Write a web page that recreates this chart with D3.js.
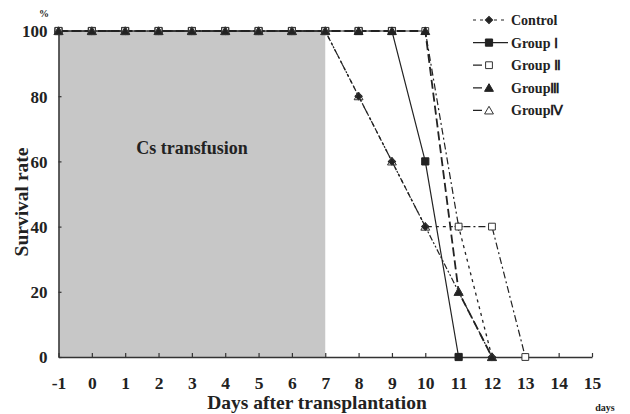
<!DOCTYPE html>
<html>
<head>
<meta charset="utf-8">
<title>survival</title>
<style>
  body { margin: 0; background: #fff; }
  text { font-family: "Liberation Serif", "Noto Serif", serif; font-weight: bold; fill: #222; }
</style>
</head>
<body>
<div id="chart"></div>
<script src="https://d3js.org/d3.v7.min.js"></script>
<script>
// data
var xTicks = [-1, 0, 1, 2, 3, 4, 5, 6, 7, 8, 9, 10, 11, 12, 13, 14, 15];
var yTicks = [0, 20, 40, 60, 80, 100];

var controlDays = [-1, 0, 1, 2, 3, 4, 5, 6, 7, 8, 9, 10, 11, 12];
var controlRate = [100, 100, 100, 100, 100, 100, 100, 100, 100, 80, 60, 40, 40, 0];

var group1Days = [-1, 0, 1, 2, 3, 4, 5, 6, 7, 8, 9, 10, 11];
var group1Rate = [100, 100, 100, 100, 100, 100, 100, 100, 100, 100, 100, 60, 0];

var group2Days = [-1, 0, 1, 2, 3, 4, 5, 6, 7, 8, 9, 10, 11, 12, 13];
var group2Rate = [100, 100, 100, 100, 100, 100, 100, 100, 100, 100, 100, 100, 40, 40, 0];

var group3Days = [-1, 0, 1, 2, 3, 4, 5, 6, 7, 8, 9, 10, 11, 12];
var group3Rate = [100, 100, 100, 100, 100, 100, 100, 100, 100, 100, 100, 100, 20, 0];

var group4Days = [-1, 0, 1, 2, 3, 4, 5, 6, 7, 8, 9, 10, 11, 12];
var group4Rate = [100, 100, 100, 100, 100, 100, 100, 100, 100, 80, 60, 40, 20, 0];

var transfusion = [-1, 7];   // shaded period (days)

var width = 630, height = 414;

var svg = d3.select('#chart').append('svg')
	.attr('width', width)
	.attr('height', height);

var x = d3.scaleLinear().domain([-1, 15]).range([58.5, 592]);
var y = d3.scaleLinear().domain([0, 100]).range([357, 31]);

// shaded transfusion period
svg.append('rect')
	.attr('x', x(transfusion[0]))
	.attr('y', y(100))
	.attr('width', x(transfusion[1]) - x(transfusion[0]))
	.attr('height', y(0) - y(100))
	.attr('fill', '#c7c7c7');

svg.append('text')
	.attr('x', 192)
	.attr('y', 154)
	.attr('text-anchor', 'middle')
	.attr('font-size', 18)
	.text('Cs transfusion');

// axes
var xAxis = d3.axisBottom(x).tickValues(xTicks).tickSize(-4).tickSizeOuter(0).tickPadding(19)
	.tickFormat(function(d){ return String(d); });
var gx = svg.append('g').attr('transform', 'translate(0,' + y(0) + ')').call(xAxis);
gx.selectAll('text').attr('font-size', 17.5).attr('dy', '0.72em');

var yAxis = d3.axisLeft(y).tickValues(yTicks).tickSize(-3).tickSizeOuter(0).tickPadding(11);
var gy = svg.append('g').attr('transform', 'translate(' + x(-1) + ',0)').call(yAxis);
gy.selectAll('text').attr('font-size', 17).attr('dy', '0.35em');

svg.selectAll('.domain').attr('stroke', '#333').attr('stroke-width', 1.5);
svg.selectAll('.tick line').attr('stroke', '#333').attr('stroke-width', 1.2);
svg.selectAll('.tick text').attr('fill', '#222').style('font-family', '"Liberation Serif", serif').style('font-weight', 'bold');

svg.append('text').attr('x', 44).attr('y', 17).attr('text-anchor', 'middle').attr('font-size', 10).text('%');
svg.append('text').attr('x', 605).attr('y', 411).attr('text-anchor', 'middle').attr('font-size', 10).text('days');

svg.append('text')
	.attr('x', 317).attr('y', 409)
	.attr('text-anchor', 'middle')
	.attr('font-size', 19.5)
	.text('Days after transplantation');

svg.append('text')
	.attr('transform', 'translate(28,202) rotate(-90)')
	.attr('text-anchor', 'middle')
	.attr('font-size', 19.5)
	.text('Survival rate');

// series
var series = [
	{ name: 'Control', days: controlDays, rate: controlRate, dash: '3,4', width: 1.3, sym: d3.symbolSquare, rot: 45, size: 26, fill: '#222', stroke: '#222' },
	{ name: 'Group \u2160', days: group1Days, rate: group1Rate, dash: null, width: 1.2, sym: d3.symbolSquare, rot: 0, size: 52, fill: '#222', stroke: '#222' },
	{ name: 'Group \u2161', days: group2Days, rate: group2Rate, dash: '7,3,2,3', width: 1.2, sym: d3.symbolSquare, rot: 0, size: 46, fill: '#fff', stroke: '#333' },
	{ name: 'Group\u2162', days: group3Days, rate: group3Rate, dash: '9,4', width: 1.8, sym: d3.symbolTriangle, rot: 0, size: 34, fill: '#222', stroke: '#222' },
	{ name: 'Group\u2163', days: group4Days, rate: group4Rate, dash: '6,2,2,2,2,2', width: 1.2, sym: d3.symbolTriangle, rot: 0, size: 34, fill: 'none', stroke: '#333' }
];

var line = d3.line()
	.x(function(d){ return x(d[0]); })
	.y(function(d){ return y(d[1]); });

series.forEach(function(s){
	var pts = s.days.map(function(d, i){ return [d, s.rate[i]]; });
	svg.append('path')
		.attr('d', line(pts))
		.attr('fill', 'none')
		.attr('stroke', '#222')
		.attr('stroke-width', s.width)
		.attr('stroke-dasharray', s.dash);
});

function symTransform(s, px, py){
	var dy = s.sym === d3.symbolTriangle ? 1 : 0;
	return 'translate(' + px + ',' + (py + dy) + ') rotate(' + s.rot + ')';
}

series.forEach(function(s){
	var pts = s.days.map(function(d, i){ return [d, s.rate[i]]; });
	svg.selectAll(null)
		.data(pts)
		.enter()
		.append('path')
		.attr('d', d3.symbol().type(s.sym).size(s.size))
		.attr('transform', function(d){ return symTransform(s, x(d[0]), y(d[1])); })
		.attr('fill', s.fill)
		.attr('stroke', s.stroke)
		.attr('stroke-width', 1);
});

// legend
var legend = svg.append('g').attr('transform', 'translate(473,20)');
series.forEach(function(s, i){
	var g = legend.append('g').attr('transform', 'translate(0,' + (i * 22.6) + ')');
	g.append('line')
		.attr('x1', 0).attr('x2', 35)
		.attr('y1', 0).attr('y2', 0)
		.attr('stroke', '#222')
		.attr('stroke-width', 1.2)
		.attr('stroke-dasharray', i === 1 ? null : (i === 0 ? '3,4' : '9,6,3,17'));
	g.append('path')
		.attr('d', d3.symbol().type(s.sym).size(s.size))
		.attr('transform', symTransform(s, 16, 0))
		.attr('fill', s.fill === 'none' ? '#fff' : s.fill)
		.attr('stroke', s.stroke);
	g.append('text')
		.attr('x', 38)
		.attr('y', 5)
		.attr('font-size', 14)
		.text(s.name);
});
</script>
</body>
</html>
